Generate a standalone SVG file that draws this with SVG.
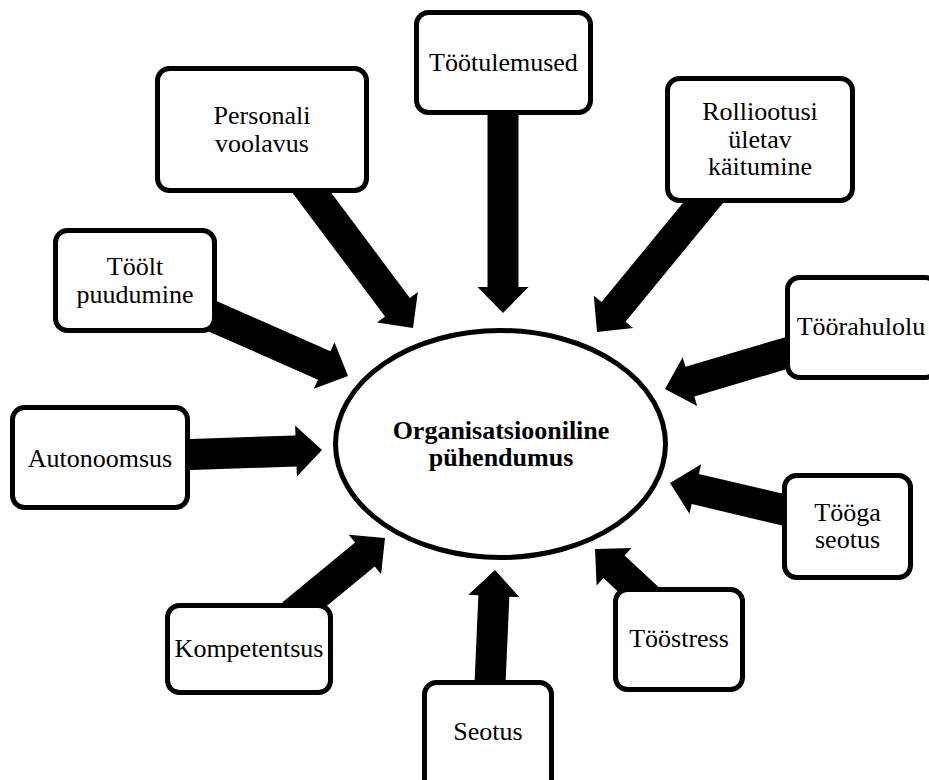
<svg xmlns="http://www.w3.org/2000/svg" width="929" height="780" viewBox="0 0 929 780">
<style>
.box{fill:#fff;stroke:#000;stroke-width:5}
.arr{fill:#000;stroke:none}
text{font-family:"Liberation Serif","Times New Roman",serif;font-size:26px;fill:#000;text-anchor:middle}
.b{font-weight:bold}
</style>
<rect width="929" height="780" fill="#fff"/>
<g id="connectors">
<polygon class="arr" transform="translate(503,313) rotate(90)" points="-210,-15.5 -26,-15.5 -26,-25.5 0,0 -26,25.5 -26,15.5 -210,15.5"/>
<polygon class="arr" transform="translate(413,328) rotate(53.2)" points="-190,-15.5 -26,-15.5 -26,-25.5 0,0 -26,25.5 -26,15.5 -190,15.5"/>
<polygon class="arr" transform="translate(348,376) rotate(23.8)" points="-150,-15.5 -26,-15.5 -26,-25.5 0,0 -26,25.5 -26,15.5 -150,15.5"/>
<polygon class="arr" transform="translate(597,332) rotate(129.4)" points="-190,-15.5 -26,-15.5 -26,-25.5 0,0 -26,25.5 -26,15.5 -190,15.5"/>
<polygon class="arr" transform="translate(665,389) rotate(163.5)" points="-140,-15.5 -26,-15.5 -26,-25.5 0,0 -26,25.5 -26,15.5 -140,15.5"/>
<polygon class="arr" transform="translate(322,450) rotate(-2)" points="-145,-15.5 -26,-15.5 -26,-25.5 0,0 -26,25.5 -26,15.5 -145,15.5"/>
<polygon class="arr" transform="translate(385,538) rotate(-39.4)" points="-120,-15.5 -26,-15.5 -26,-25.5 0,0 -26,25.5 -26,15.5 -120,15.5"/>
<polygon class="arr" transform="translate(495,570) rotate(-87.5)" points="-125,-15.5 -26,-15.5 -26,-25.5 0,0 -26,25.5 -26,15.5 -125,15.5"/>
<polygon class="arr" transform="translate(595,549) rotate(223)" points="-75,-15.5 -26,-15.5 -26,-25.5 0,0 -26,25.5 -26,15.5 -75,15.5"/>
<polygon class="arr" transform="translate(670,483) rotate(193.3)" points="-130,-15.5 -26,-15.5 -26,-25.5 0,0 -26,25.5 -26,15.5 -130,15.5"/>
</g>
<g id="center">
<ellipse class="box" cx="500.5" cy="444" rx="165" ry="113.5"/>
<text class="b" x="501" y="439">Organisatsiooniline</text>
<text class="b" x="501" y="466">pühendumus</text>
</g>
<g id="n-tootulemused">
<rect class="box" x="416.5" y="12.5" width="174" height="100" rx="12"/>
<text x="503.5" y="71">Töötulemused</text>
</g>
<g id="n-personali">
<rect class="box" x="157.5" y="68.5" width="209" height="122" rx="12"/>
<text x="262" y="124">Personali</text>
<text x="262" y="152">voolavus</text>
</g>
<g id="n-toolt">
<rect class="box" x="55.5" y="230.5" width="159" height="100" rx="12"/>
<text x="135" y="275">Töölt</text>
<text x="135" y="303">puudumine</text>
</g>
<g id="n-rolli">
<rect class="box" x="667.5" y="78.5" width="185" height="122" rx="12"/>
<text x="760" y="120">Rolliootusi</text>
<text x="760" y="148">ületav</text>
<text x="760" y="175">käitumine</text>
</g>
<g id="n-toorahulolu">
<rect class="box" x="787.5" y="277.5" width="150" height="100" rx="12"/>
<text x="861" y="335">Töörahulolu</text>
</g>
<g id="n-autonoomsus">
<rect class="box" x="12.5" y="407.5" width="175" height="100" rx="12"/>
<text x="100" y="467">Autonoomsus</text>
</g>
<g id="n-kompetentsus">
<rect class="box" x="167.5" y="605.5" width="163" height="87" rx="12"/>
<text x="249" y="657">Kompetentsus</text>
</g>
<g id="n-seotus">
<rect class="box" x="424.5" y="682.5" width="127" height="110" rx="12"/>
<text x="488" y="740">Seotus</text>
</g>
<g id="n-toostress">
<rect class="box" x="615.5" y="589.5" width="127" height="100" rx="12"/>
<text x="679" y="647">Tööstress</text>
</g>
<g id="n-tooga">
<rect class="box" x="784.5" y="475.5" width="126" height="102" rx="12"/>
<text x="847.5" y="521">Tööga</text>
<text x="847.5" y="548">seotus</text>
</g>
</svg>
